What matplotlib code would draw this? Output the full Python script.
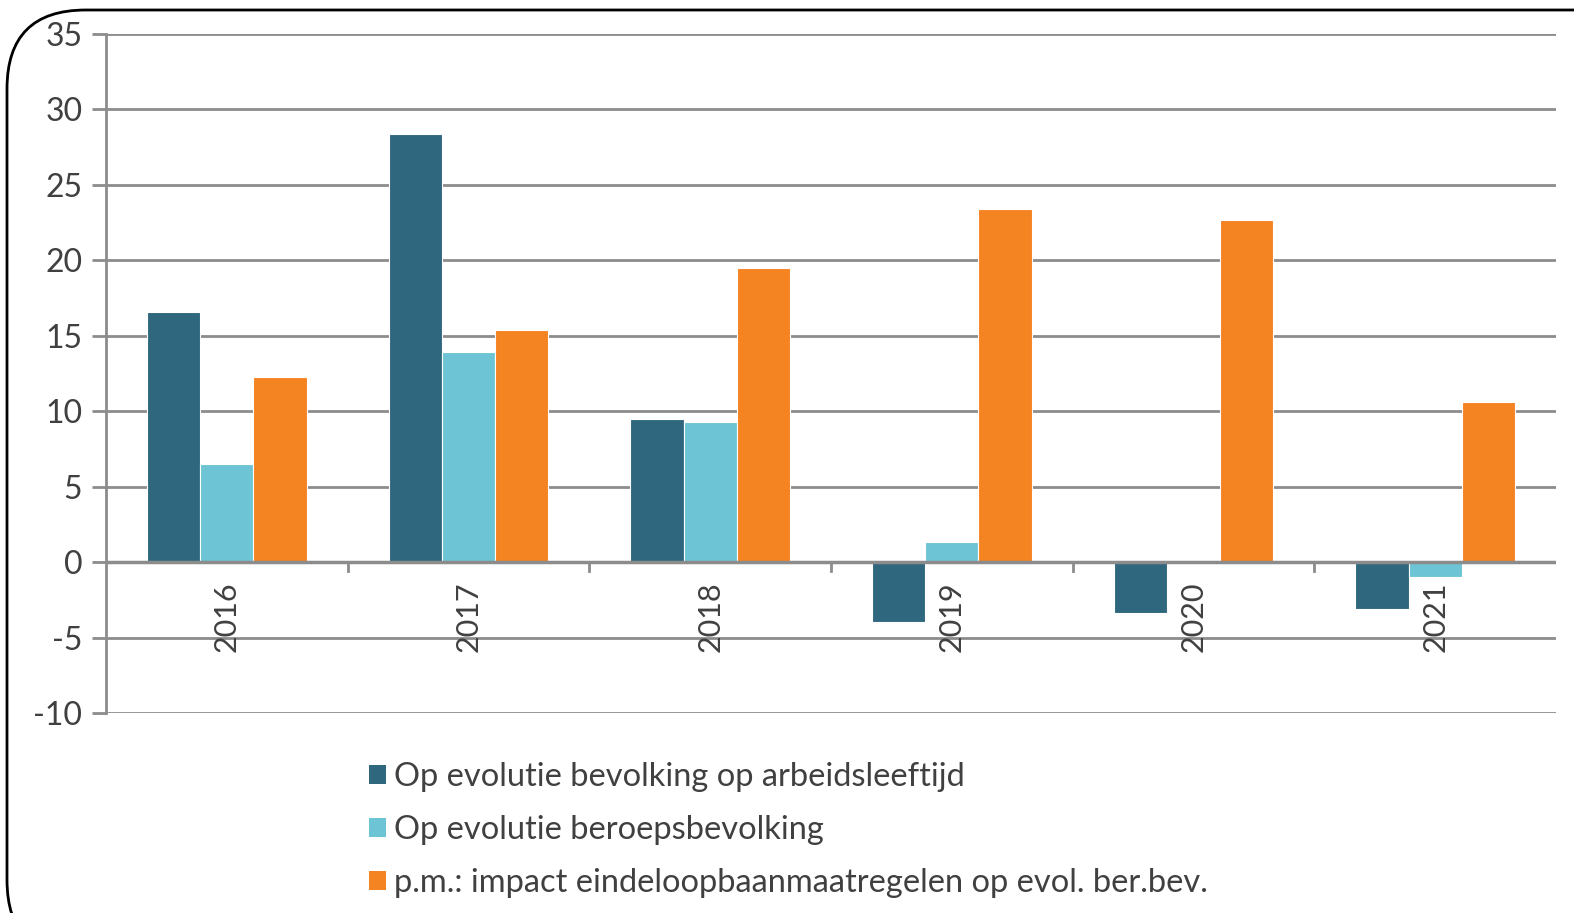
import matplotlib.pyplot as plt
import numpy as np
from matplotlib.patches import FancyBboxPatch, Patch

plt.rcParams['font.family'] = ['Lato', 'DejaVu Sans']

years = ['2016', '2017', '2018', '2019', '2020', '2021']
arbeidsleeftijd = [16.6, 28.4, 9.5, -4.0, -3.4, -3.1]
beroepsbevolking = [6.5, 13.9, 9.3, 1.3, 0.1, -1.0]
eindeloopbaan = [12.3, 15.4, 19.5, 23.4, 22.7, 10.6]
series_labels = ['Op evolutie bevolking op arbeidsleeftijd',
                 'Op evolutie beroepsbevolking',
                 'p.m.: impact eindeloopbaanmaatregelen op evol. ber.bev.']
colors = ['#2e677e', '#6dc4d4', '#f48321']

fig = plt.figure(figsize=(15.74, 9.13), dpi=100)
ax = fig.add_axes([106 / 1574, 1 - 713 / 913, 1450 / 1574, 679 / 913])

# rounded outer frame
frame = FancyBboxPatch((7 / 1574, -0.05), 1.2, 1 - 10 / 913 + 0.05,
                       boxstyle='round,pad=0,rounding_size=0.05',
                       transform=fig.transFigure, fill=False,
                       edgecolor='black', linewidth=2, clip_on=False,
                       mutation_aspect=1574 / 913)
fig.patches.append(frame)

x = np.arange(len(years))
w = 0.22
for i, (vals, c) in enumerate(zip([arbeidsleeftijd, beroepsbevolking, eindeloopbaan], colors)):
    ax.bar(x + (i - 1) * w, vals, width=w, color=c, edgecolor='white', linewidth=0.8, zorder=3)

ax.set_xlim(-0.5, len(years) - 0.5)
ax.set_ylim(-10, 35)
ax.set_yticks(range(-10, 36, 5))
ax.set_yticklabels([str(v) for v in range(-10, 36, 5)], fontsize=23, color='#404040')
ax.yaxis.grid(True, color='#8c8c8c', linewidth=2, zorder=0)
ax.tick_params(axis='y', length=10, color='#8c8c8c', width=2, pad=7)

for s in ['top', 'right', 'bottom']:
    ax.spines[s].set_visible(False)
ax.spines['left'].set_color('#8c8c8c')
ax.spines['left'].set_linewidth(2)
ax.axhline(0, color='#8c8c8c', linewidth=2.5, zorder=4)

ax.set_xticks([])
for xi, yr in zip(x, years):
    ax.text(xi, -1.3, yr, rotation=90, ha='center', va='top',
            fontsize=22, color='#404040')
# category separators on zero line
for b in np.arange(0.5, len(years) - 0.5, 1.0):
    ax.plot([b, b], [0, -0.6], color='#8c8c8c', linewidth=2, zorder=4)

handles = [Patch(facecolor=c, edgecolor='none') for c in colors]
fig.legend(handles, series_labels, loc='upper left',
           bbox_to_anchor=(340 / 1574, 1 - 733 / 913), frameon=False,
           fontsize=23.5, handlelength=0.5, handleheight=0.5, handletextpad=0.25,
           labelspacing=0.7, labelcolor='#404040')

fig.savefig('out.png', dpi=100)
